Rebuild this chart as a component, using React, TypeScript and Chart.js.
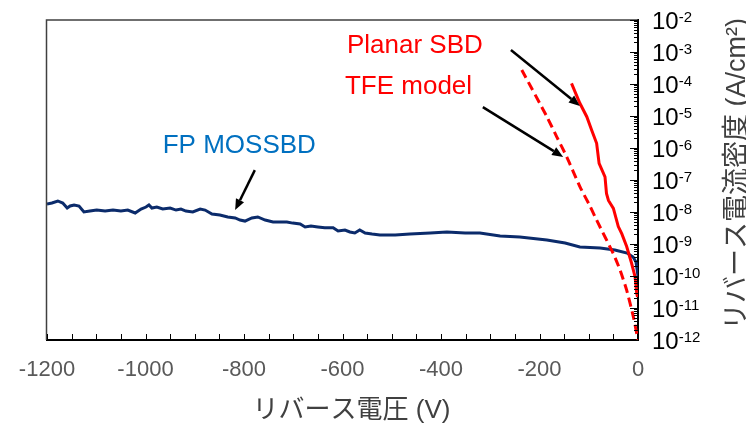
import { useEffect, useRef } from 'react';
import { Chart, registerables } from 'chart.js';

Chart.register(...registerables);

// ---- Data (reverse voltage in V, current density in A/cm²) ----
const fpVolts = [
  -1200, -1190, -1178, -1168, -1159, -1153, -1145, -1135, -1125, -1113, -1099, -1082, -1066, -1050, -1036,
  -1021, -1009, -999, -993, -987, -977, -965, -950, -938, -928, -918, -904, -889, -879, -865, -849, -833,
  -818, -808, -798, -784, -772, -757, -741, -727, -713, -701, -686, -676, -664, -650, -636, -619, -609,
  -595, -585, -575, -565, -554, -540, -524, -493, -463, -422, -388, -351, -321, -280, -240, -185, -148,
  -118, -77, -47, -22, -10, -4, 0,
];
const fpCurrent = [
  1.78e-8, 1.91e-8, 2.21e-8, 1.91e-8, 1.33e-8, 1.54e-8, 1.66e-8, 1.54e-8, 1.0e-8, 1.07e-8, 1.15e-8, 1.07e-8,
  1.15e-8, 1.07e-8, 1.15e-8, 9.3e-9, 1.24e-8, 1.43e-8, 1.66e-8, 1.33e-8, 1.43e-8, 1.24e-8, 1.33e-8, 1.15e-8,
  1.24e-8, 1.07e-8, 1.0e-8, 1.24e-8, 1.15e-8, 8.7e-9, 8.1e-9, 7.0e-9, 6.5e-9, 5.6e-9, 5.2e-9, 6.5e-9, 7.0e-9,
  5.6e-9, 4.9e-9, 4.9e-9, 4.9e-9, 4.5e-9, 4.2e-9, 3.4e-9, 3.65e-9, 3.4e-9, 3.2e-9, 3.2e-9, 2.55e-9, 2.74e-9,
  2.37e-9, 2.21e-9, 2.74e-9, 2.21e-9, 2.05e-9, 1.91e-9, 1.91e-9, 2.05e-9, 2.21e-9, 2.37e-9, 2.21e-9, 2.21e-9,
  1.78e-9, 1.66e-9, 1.33e-9, 1.07e-9, 8.1e-10, 7.5e-10, 6.5e-10, 5.2e-10, 3.9e-10, 2.74e-10, 1.0e-10,
];

const sbdVolts = [-135, -118, -104, -94, -84, -79, -67, -64, -60, -50, -40, -33, -23, -13, -6, -2.6, -1];
const sbdCurrent = [
  1.05e-4, 2.5e-5, 9.5e-6, 3.6e-6, 1.4e-6, 3.3e-7, 1.26e-7, 3.8e-8, 2.3e-8, 1.3e-8, 3.5e-9, 2.1e-9, 8.3e-10,
  2.5e-10, 9.5e-11, 2.9e-11, 2.2e-11,
];

const tfeVolts = [-236, -185, -165, -145, -118, -97, -84, -50, -36.5, -23, -9.5, 0];
const tfeCurrent = [2.75e-4, 9.5e-6, 2.24e-6, 5.4e-7, 6.2e-8, 1.48e-8, 5.6e-9, 4.9e-10, 1.55e-10, 3.6e-11, 5.4e-12, 1e-12];

const seriesNames = ['Planar SBD', 'TFE model', 'FP MOSSBD'];
const yExponents = [-2, -3, -4, -5, -6, -7, -8, -9, -10, -11, -12];
const xMin = -1200;
const xMax = 0;
const xStep = 200;
const xMinorStep = 50;
const xTitle = 'リバース電圧 (V)';
const yTitle = 'リバース電流密度 (A/cm²)';

// annotation anchors in data coordinates
const labelTexts = ['Planar SBD', 'TFE model', 'FP MOSSBD'];
const labelVolts = [-591, -595, -965];
const labelCurrents = [9.3e-4, 4.87e-5, 6.98e-7];
const arrowFromVolts = [-258, -315, -778];
const arrowFromCurrents = [1.155e-3, 1.9e-5, 2.04e-7];
const arrowToVolts = [-118, -152, -818];
const arrowToCurrents = [2.05e-5, 5.25e-7, 1.15e-8];

const RED = '#FF0000';
const NAVY = '#0B2B6B';
const LABEL_BLUE = '#0070C0';
const FONT = "'Liberation Sans', 'Noto Sans CJK JP', Arial, sans-serif";

const toPoints = (xs: number[], ys: number[]) => xs.map((v, i) => ({ x: v, y: ys[i] }));

const decorPlugin = {
  id: 'decor',
  afterDraw(chart: any) {
    const { ctx, chartArea: ca } = chart;
    const xs = chart.scales.x;
    const ys = chart.scales.y;
    ctx.save();

    // left & top frame
    ctx.strokeStyle = '#404040';
    ctx.lineWidth = 1.5;
    ctx.beginPath();
    ctx.moveTo(ca.left - 0.5, ca.bottom);
    ctx.lineTo(ca.left - 0.5, ca.top);
    ctx.lineTo(ca.right, ca.top);
    ctx.stroke();

    // x ticks (inward)
    ctx.strokeStyle = '#000';
    ctx.lineWidth = 1;
    for (let v = xMin; v <= xMax; v += xMinorStep) {
      const px = Math.round(xs.getPixelForValue(v)) + 0.5;
      ctx.beginPath();
      ctx.moveTo(px, ca.bottom);
      ctx.lineTo(px, ca.bottom - 6);
      ctx.stroke();
    }

    // y ticks (inward, log minor)
    for (const e of yExponents) {
      const py = Math.round(ys.getPixelForValue(Math.pow(10, e))) + 0.5;
      ctx.beginPath();
      ctx.moveTo(ca.right, py);
      ctx.lineTo(ca.right - 8, py);
      ctx.stroke();
      if (e < -2) {
        for (let m = 2; m <= 9; m++) {
          const pm = Math.round(ys.getPixelForValue(m * Math.pow(10, e))) + 0.5;
          ctx.beginPath();
          ctx.moveTo(ca.right, pm);
          ctx.lineTo(ca.right - 4, pm);
          ctx.stroke();
        }
      }
    }

    // y tick labels 10^n
    ctx.fillStyle = '#000';
    ctx.textAlign = 'left';
    ctx.textBaseline = 'alphabetic';
    for (const e of yExponents) {
      const py = ys.getPixelForValue(Math.pow(10, e));
      const lx = ca.right + 14;
      ctx.font = `24px ${FONT}`;
      ctx.fillText('10', lx, py + 8.5);
      const w = ctx.measureText('10').width;
      ctx.font = `15px ${FONT}`;
      ctx.fillText(String(e), lx + w, py + 1.5);
    }

    // x title
    ctx.fillStyle = '#404040';
    ctx.font = `26px ${FONT}`;
    ctx.textAlign = 'center';
    ctx.textBaseline = 'middle';
    ctx.fillText(xTitle, (ca.left + ca.right) / 2 + 9, 411);

    // y title (rotated, reading bottom to top)
    ctx.save();
    ctx.translate(chart.width - 8, (ca.top + ca.bottom) / 2 - 6);
    ctx.rotate(-Math.PI / 2);
    ctx.font = `27px ${FONT}`;
    ctx.fillText(yTitle, 0, 0);
    ctx.restore();

    // annotation labels
    const labelColors = [RED, RED, LABEL_BLUE];
    ctx.textAlign = 'left';
    ctx.textBaseline = 'alphabetic';
    ctx.font = `26px ${FONT}`;
    labelTexts.forEach((t, i) => {
      ctx.fillStyle = labelColors[i];
      ctx.fillText(t, xs.getPixelForValue(labelVolts[i]), ys.getPixelForValue(labelCurrents[i]));
    });

    // arrows
    ctx.strokeStyle = '#000';
    ctx.fillStyle = '#000';
    ctx.lineWidth = 2.5;
    arrowFromVolts.forEach((_, i) => {
      const x1 = xs.getPixelForValue(arrowFromVolts[i]);
      const y1 = ys.getPixelForValue(arrowFromCurrents[i]);
      const x2 = xs.getPixelForValue(arrowToVolts[i]);
      const y2 = ys.getPixelForValue(arrowToCurrents[i]);
      const ang = Math.atan2(y2 - y1, x2 - x1);
      const hl = 11;
      const hw = 4.5;
      const bx = x2 - hl * Math.cos(ang);
      const by = y2 - hl * Math.sin(ang);
      ctx.beginPath();
      ctx.moveTo(x1, y1);
      ctx.lineTo(bx, by);
      ctx.stroke();
      ctx.beginPath();
      ctx.moveTo(x2, y2);
      ctx.lineTo(bx + hw * Math.sin(ang), by - hw * Math.cos(ang));
      ctx.lineTo(bx - hw * Math.sin(ang), by + hw * Math.cos(ang));
      ctx.closePath();
      ctx.fill();
    });

    ctx.restore();
  },
};

export default function App() {
  const canvasRef = useRef<HTMLCanvasElement | null>(null);

  useEffect(() => {
    if (!canvasRef.current) return;
    Chart.defaults.font.family = FONT;
    const chart = new Chart(canvasRef.current, {
      type: 'line',
      data: {
        datasets: [
          {
            label: seriesNames[0],
            data: toPoints(sbdVolts, sbdCurrent),
            borderColor: RED,
            borderWidth: 3,
            pointRadius: 0,
            tension: 0,
          },
          {
            label: seriesNames[1],
            data: toPoints(tfeVolts, tfeCurrent),
            borderColor: RED,
            borderWidth: 3,
            borderDash: [9, 5],
            pointRadius: 0,
            tension: 0.2,
          },
          {
            label: seriesNames[2],
            data: toPoints(fpVolts, fpCurrent),
            borderColor: NAVY,
            borderWidth: 3,
            pointRadius: 0,
            tension: 0,
          },
        ],
      },
      options: {
        responsive: false,
        animation: false,
        layout: { padding: { left: 47, top: 20, right: 0, bottom: 0 } },
        plugins: { legend: { display: false }, tooltip: { enabled: false } },
        scales: {
          x: {
            type: 'linear',
            position: 'bottom',
            min: xMin,
            max: xMax,
            grid: { display: false, drawTicks: false },
            border: { display: true, color: '#000', width: 2 },
            ticks: {
              stepSize: xStep,
              padding: 17,
              color: '#595959',
              font: { size: 22, family: FONT },
              maxRotation: 0,
              callback: (v: any) => String(v),
            },
            afterFit: (scale: any) => {
              scale.height = 88;
            },
          },
          y: {
            type: 'logarithmic',
            position: 'right',
            min: 1e-12,
            max: 1e-2,
            grid: { display: false, drawTicks: false },
            border: { display: true, color: '#000', width: 2 },
            ticks: { display: false },
            afterFit: (scale: any) => {
              scale.width = 108;
            },
          },
        },
      },
      plugins: [decorPlugin],
    });
    return () => chart.destroy();
  }, []);

  return (
    <div style={{ position: 'absolute', left: 0, top: 0, width: 746, height: 428, background: '#fff' }}>
      <canvas ref={canvasRef} width={746} height={428} />
    </div>
  );
}
